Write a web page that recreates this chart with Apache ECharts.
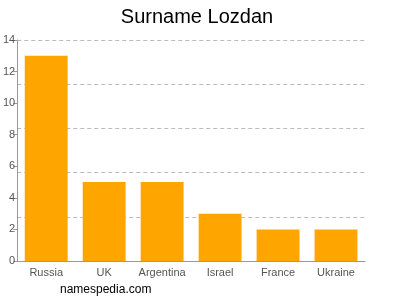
<!DOCTYPE html>
<html><head><meta charset="utf-8">
<script src="https://cdn.jsdelivr.net/npm/echarts@6/dist/echarts.min.js"></script>
<style>html,body{margin:0;padding:0;background:#fff}#c{width:400px;height:300px}</style>
</head><body><div id="c"></div>
<script>
var categories = ['Russia', 'UK', 'Argentina', 'Israel', 'France', 'Ukraine'];
var counts = [13, 5, 5, 3, 2, 2];
var yMax = 14;
var labelStep = 2;
var gridStep = 2.8;

var chart = echarts.init(document.getElementById('c'), null, {renderer: 'canvas'});
chart.setOption({
  animation: false,
  title: {
    text: 'Surname Lozdan', left: 192, top: 2, textAlign: 'center',
    textStyle: {fontFamily: 'Liberation Sans, Arial, sans-serif', fontSize: 20, fontWeight: 'normal', color: '#000'}
  },
  graphic: [{
    type: 'text', left: 60, top: 284,
    style: {text: 'namespedia.com', font: '12px "Liberation Sans", Arial, sans-serif', fill: '#000'}
  }],
  grid: {left: 17, right: 35, top: 40, bottom: 39, containLabel: false},
  xAxis: {
    type: 'category', data: categories,
    axisLine: {lineStyle: {color: '#999'}},
    axisTick: {alignWithLabel: true, length: 4, lineStyle: {color: '#999'}},
    axisLabel: {interval: 0, color: '#555', fontSize: 11, fontFamily: 'Liberation Sans, Arial, sans-serif', margin: 6}
  },
  yAxis: [{
    type: 'value', min: 0, max: yMax, interval: labelStep,
    axisLine: {show: true, lineStyle: {color: '#999'}},
    axisTick: {show: true, length: 4, lineStyle: {color: '#999'}},
    axisLabel: {color: '#555', fontSize: 11, fontFamily: 'Liberation Sans, Arial, sans-serif', margin: 2},
    splitLine: {show: false}
  }, {
    type: 'value', min: 0, max: yMax, interval: gridStep, position: 'left',
    axisLine: {show: false}, axisTick: {show: false}, axisLabel: {show: false},
    splitLine: {show: true, lineStyle: {color: '#bbb', type: [4, 3], width: 1}}
  }],
  series: [{
    type: 'bar', data: counts, yAxisIndex: 0,
    barCategoryGap: '26%',
    itemStyle: {color: '#FFA500'}
  }]
});
</script></body></html>
